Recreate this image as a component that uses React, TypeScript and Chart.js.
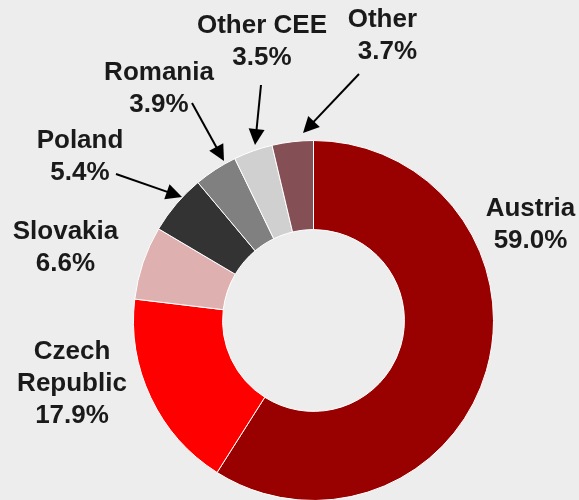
import React, { useEffect, useRef } from "react";
import { Chart, registerables } from "chart.js";

Chart.register(...registerables);

// ---- data ----
const categories = ["Austria", "Czech Republic", "Slovakia", "Poland", "Romania", "Other CEE", "Other"];
const shares = [59.0, 17.9, 6.6, 5.4, 3.9, 3.5, 3.7];
const sliceColors = ["#990000", "#ff0000", "#dfb0b0", "#333333", "#808080", "#d0d0d0", "#855055"];
const labelLines = [["Austria"], ["Czech", "Republic"], ["Slovakia"], ["Poland"], ["Romania"], ["Other CEE"], ["Other"]];

// ---- annotation layout (label anchor x, first baseline y, alignment) ----
const labelPos: { x: number; y: number; align: CanvasTextAlign }[] = [
  { x: 530.5, y: 216, align: "center" },
  { x: 72, y: 359, align: "center" },
  { x: 65.5, y: 239, align: "center" },
  { x: 80, y: 148, align: "center" },
  { x: 159, y: 80, align: "center" },
  { x: 262, y: 33, align: "center" },
  { x: 417, y: 27, align: "right" },
];
// arrows: [fromX, fromY, toX, toY] or null
const arrows: (number[] | null)[] = [
  null,
  null,
  null,
  [116, 174, 182, 197],
  [192, 103, 224, 161],
  [261, 85, 255, 145],
  [359, 74, 303, 133],
];

const W = 579;
const H = 520;

const labelPlugin = {
  id: "sliceLabels",
  afterDraw(chart: any) {
    const ctx = chart.ctx as CanvasRenderingContext2D;
    ctx.save();
    ctx.font = "bold 26px 'Liberation Sans', Arial, sans-serif";
    ctx.textBaseline = "alphabetic";
    const lh = 32;
    categories.forEach((_, i) => {
      const p = labelPos[i];
      const lines = [...labelLines[i], shares[i].toFixed(1) + "%"];
      ctx.fillStyle = "#1a1a1a";
      ctx.textAlign = p.align;
      lines.forEach((t, k) => ctx.fillText(t, p.x, p.y + k * lh));
      const a = arrows[i];
      if (a) {
        const [x1, y1, x2, y2] = a;
        const ang = Math.atan2(y2 - y1, x2 - x1);
        const hl = 16;
        const hw = 8;
        const bx = x2 - hl * Math.cos(ang);
        const by = y2 - hl * Math.sin(ang);
        ctx.strokeStyle = "#000";
        ctx.fillStyle = "#000";
        ctx.lineWidth = 2;
        ctx.beginPath();
        ctx.moveTo(x1, y1);
        ctx.lineTo(bx + 2 * Math.cos(ang), by + 2 * Math.sin(ang));
        ctx.stroke();
        ctx.beginPath();
        ctx.moveTo(x2, y2);
        ctx.lineTo(bx - hw * Math.sin(ang), by + hw * Math.cos(ang));
        ctx.lineTo(bx + hw * Math.sin(ang), by - hw * Math.cos(ang));
        ctx.closePath();
        ctx.fill();
      }
    });
    ctx.restore();
  },
};

export default function App() {
  const ref = useRef<HTMLCanvasElement>(null);
  useEffect(() => {
    if (!ref.current) return;
    const chart = new Chart(ref.current, {
      type: "doughnut",
      data: {
        labels: categories,
        datasets: [
          {
            data: shares,
            backgroundColor: sliceColors,
            borderColor: "#ffffff",
            borderWidth: 1,
          },
        ],
      },
      options: {
        responsive: false,
        animation: false,
        devicePixelRatio: 1,
        cutout: "50.5%",
        layout: { padding: { left: 133, right: 85, top: 140, bottom: 19 } },
        plugins: {
          legend: { display: false },
          tooltip: { enabled: false },
        },
      },
      plugins: [labelPlugin],
    });
    return () => chart.destroy();
  }, []);
  return (
    <div
      style={{
        position: "fixed",
        left: 0,
        top: 0,
        width: W,
        height: 500,
        overflow: "hidden",
        background: "#ededed",
      }}
    >
      <canvas ref={ref} width={W} height={H} style={{ width: W, height: H, display: "block" }} />
    </div>
  );
}
